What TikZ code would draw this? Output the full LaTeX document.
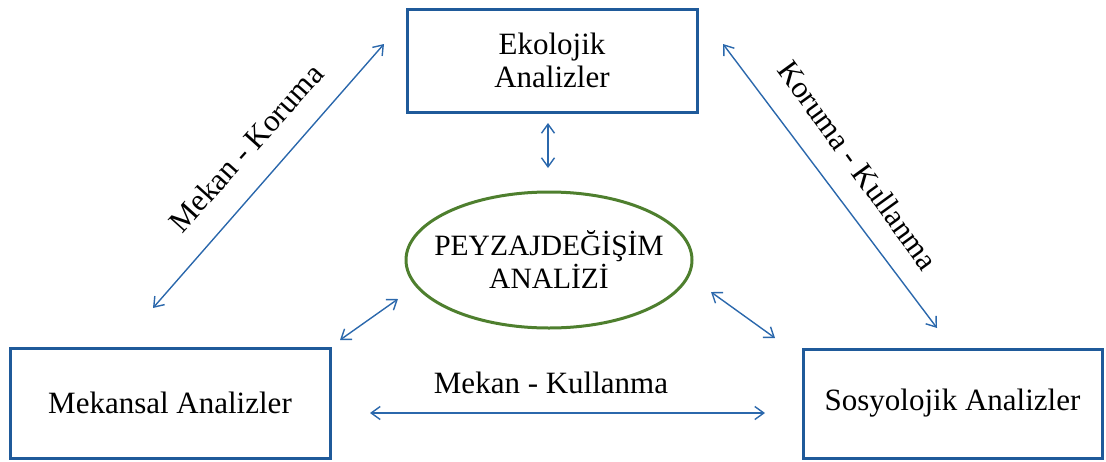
\documentclass[tikz,border=0pt]{standalone}
\usepackage{fontspec}
\setmainfont{Liberation Serif}
\usetikzlibrary{arrows.meta,shapes.geometric}
\definecolor{boxblue}{HTML}{1F5A9A}
\definecolor{arrblue}{HTML}{2B68AC}
\definecolor{ellgreen}{HTML}{4E7F2E}
\tikzset{
  box/.style={draw=boxblue, line width=3pt, fill=white, inner sep=0pt, align=center,
    font=\fontsize{31}{33}\selectfont},
  conn/.style={draw=arrblue, line width=1.4pt, {Straight Barb[length=9pt,width=13pt]}-{Straight Barb[length=9pt,width=13pt]}},
  lbl/.style={font=\fontsize{31}{33}\selectfont, inner sep=0pt},
}
\begin{document}
\begin{tikzpicture}[x=1pt,y=-1pt]
\useasboundingbox (0,0) rectangle (1106,461);
\node[box, minimum width=290pt, minimum height=103pt] (eko) at (552,60.5) {Ekolojik\\Analizler};
\node[box, minimum width=320pt, minimum height=110pt] (mek) at (170,403) {Mekansal Analizler};
\node[box, minimum width=299pt, minimum height=109pt] (sos) at (952.5,403.5) {Sosyolojik Analizler};
\node[draw=ellgreen, line width=3pt, ellipse, minimum width=286pt, minimum height=136pt, inner sep=0pt] (ell) at (549,260) {};
\node[align=center, inner sep=0pt, font=\fontsize{29.5}{33}\selectfont] (elltxt) at (ell.center) {PEYZAJDEĞİŞİM\\ANALİZİ};
% connector endpoints
\coordinate (a1) at (548,123); \coordinate (a2) at (548,168);
\coordinate (b1) at (153,308); \coordinate (b2) at (384,44);
\coordinate (c1) at (723,44); \coordinate (c2) at (937,328);
\coordinate (d1) at (340,340); \coordinate (d2) at (398,299);
\coordinate (e1) at (711,292); \coordinate (e2) at (775,338);
\coordinate (f1) at (370,413); \coordinate (f2) at (765,413);
\draw[conn] (a1) -- (a2);
\draw[conn] (b1) -- (b2);
\draw[conn] (c1) -- (c2);
\draw[conn] (d1) -- (d2);
\draw[conn] (e1) -- (e2);
\draw[conn] (f1) -- (f2);
\node[lbl, rotate=48] (l1) at (246,148) {Mekan - Koruma};
\node[lbl, rotate=-54] (l2) at (858,165) {Koruma - Kullanma};
\node[lbl] (l3) at (551,383) {Mekan - Kullanma};
\end{tikzpicture}
\end{document}
